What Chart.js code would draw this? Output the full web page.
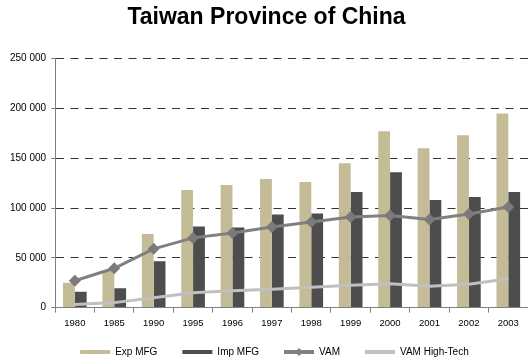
<!DOCTYPE html>
<html>
<head>
<meta charset="utf-8">
<script src="https://cdn.jsdelivr.net/npm/chart.js@4"></script>
<style>
  html, body { margin: 0; padding: 0; background: #fff; }
  #wrap { width: 528px; height: 360px; }
</style>
</head>
<body>
<div id="wrap"><canvas id="grafico" width="528" height="360"></canvas></div>
<script>
// ================= DADOS =================
const anos = ["1980", "1985", "1990", "1995", "1996", "1997", "1998", "1999", "2000", "2001", "2002", "2003"];
const expMfg = [25000, 37000, 74000, 118000, 123000, 129000, 126000, 145000, 177000, 160000, 173000, 195000];
const impMfg = [16000, 19500, 46500, 81500, 80500, 93500, 94500, 116000, 136000, 108000, 111000, 116000];
const vam = [27000, 39500, 59000, 70000, 75000, 81000, 86000, 91000, 92500, 88500, 94000, 101000];
const vamHighTech = [3000, 5000, 10000, 15000, 17000, 18500, 20500, 22500, 24000, 21500, 23500, 29000];
const ticksY = [0, 50000, 100000, 150000, 200000, 250000];

const COR_EXP = "#c4bc96";
const COR_IMP = "#4d4d4d";
const COR_VAM = "#808080";
const COR_HT = "#c0c0c0";
const FONTE = "'Liberation Sans', Arial, sans-serif";
const SUBIR_LEGENDA = 12;

function formatarMilhar(v) {
    return String(v).replace(/\B(?=(\d{3})+(?!\d))/g, " ");
}

// legenda um pouco mais perto do eixo X + losango no item "VAM"
const ajusteLegenda = {
    id: "ajusteLegenda",
    afterUpdate(chart) {
        const lg = chart.legend;
        if (!lg) return;
        lg.top -= SUBIR_LEGENDA;
        lg.bottom -= SUBIR_LEGENDA;
        (lg.legendHitBoxes || []).forEach(h => { h.top -= SUBIR_LEGENDA; });
    },
    afterDraw(chart) {
        const lg = chart.legend;
        if (!lg || !lg.legendHitBoxes) return;
        lg.legendItems.forEach((item, i) => {
            if (item.datasetIndex !== 2) return;
            const box = lg.legendHitBoxes[i];
            const cx = box.left + 15;
            const cy = box.top + box.height / 2;
            const r = 4;
            const ctx = chart.ctx;
            ctx.save();
            ctx.fillStyle = COR_VAM;
            ctx.beginPath();
            ctx.moveTo(cx, cy - r);
            ctx.lineTo(cx + r, cy);
            ctx.lineTo(cx, cy + r);
            ctx.lineTo(cx - r, cy);
            ctx.closePath();
            ctx.fill();
            ctx.restore();
        });
    }
};

const ctx = document.getElementById("grafico").getContext("2d");
new Chart(ctx, {
    type: "bar",
    data: {
        labels: anos,
        datasets: [
            {
                label: "Exp MFG",
                data: expMfg,
                backgroundColor: COR_EXP,
                borderWidth: 0,
                order: 2,
                barPercentage: 1.0,
                categoryPercentage: 0.6
            },
            {
                label: "Imp MFG",
                data: impMfg,
                backgroundColor: COR_IMP,
                borderWidth: 0,
                order: 2,
                barPercentage: 1.0,
                categoryPercentage: 0.6
            },
            {
                type: "line",
                label: "VAM",
                data: vam,
                borderColor: COR_VAM,
                backgroundColor: COR_VAM,
                borderWidth: 3,
                pointStyle: "rectRot",
                pointRadius: 6,
                pointBackgroundColor: "#7a7a7a",
                pointBorderColor: "#7a7a7a",
                pointBorderWidth: 0,
                tension: 0,
                order: 1
            },
            {
                type: "line",
                label: "VAM High-Tech",
                data: vamHighTech,
                borderColor: COR_HT,
                backgroundColor: COR_HT,
                borderWidth: 3,
                pointRadius: 0,
                tension: 0,
                order: 0
            }
        ]
    },
    options: {
        responsive: false,
        animation: false,
        devicePixelRatio: 1,
        layout: { autoPadding: false, padding: { left: 5, right: 0, top: 0, bottom: -19 } },
        plugins: {
            title: {
                display: true,
                text: "Taiwan Province of China",
                color: "#000",
                font: { family: FONTE, size: 23, weight: "bold" },
                padding: { top: 4, bottom: 27 }
            },
            legend: {
                position: "bottom",
                align: "start",
                fullSize: false,
                labels: {
                    color: "#000",
                    font: { family: FONTE, size: 10 },
                    boxWidth: 30,
                    boxHeight: 4,
                    padding: 25,
                    sort: (a, b) => a.datasetIndex - b.datasetIndex,
                    generateLabels(chart) {
                        const itens = Chart.defaults.plugins.legend.labels.generateLabels(chart);
                        return itens.map(it => Object.assign(it, { lineWidth: 0, strokeStyle: "transparent" }));
                    }
                }
            },
            tooltip: { enabled: false }
        },
        scales: {
            x: {
                offset: true,
                grid: {
                    offset: true,
                    drawOnChartArea: false,
                    drawTicks: true,
                    tickLength: 5,
                    tickColor: "#808080"
                },
                border: { color: "#808080", width: 1 },
                ticks: {
                    color: "#000",
                    padding: 5,
                    font: { family: FONTE, size: 9.5 },
                    maxRotation: 0
                }
            },
            y: {
                min: 0,
                max: 250000,
                afterBuildTicks(scale) {
                    scale.ticks = ticksY.map(v => ({ value: v }));
                },
                grid: {
                    color: c => (c.tick && c.tick.value === 0 ? "transparent" : "#333"),
                    lineWidth: 1,
                    drawTicks: true,
                    tickLength: 4,
                    tickColor: "#808080",
                    tickBorderDash: []
                },
                border: { color: "#808080", width: 1, dash: [8, 6.5] },
                ticks: {
                    color: "#000",
                    padding: 5,
                    font: { family: FONTE, size: 10 },
                    callback: v => formatarMilhar(v)
                }
            }
        }
    },
    plugins: [ajusteLegenda]
});
</script>
</body>
</html>
